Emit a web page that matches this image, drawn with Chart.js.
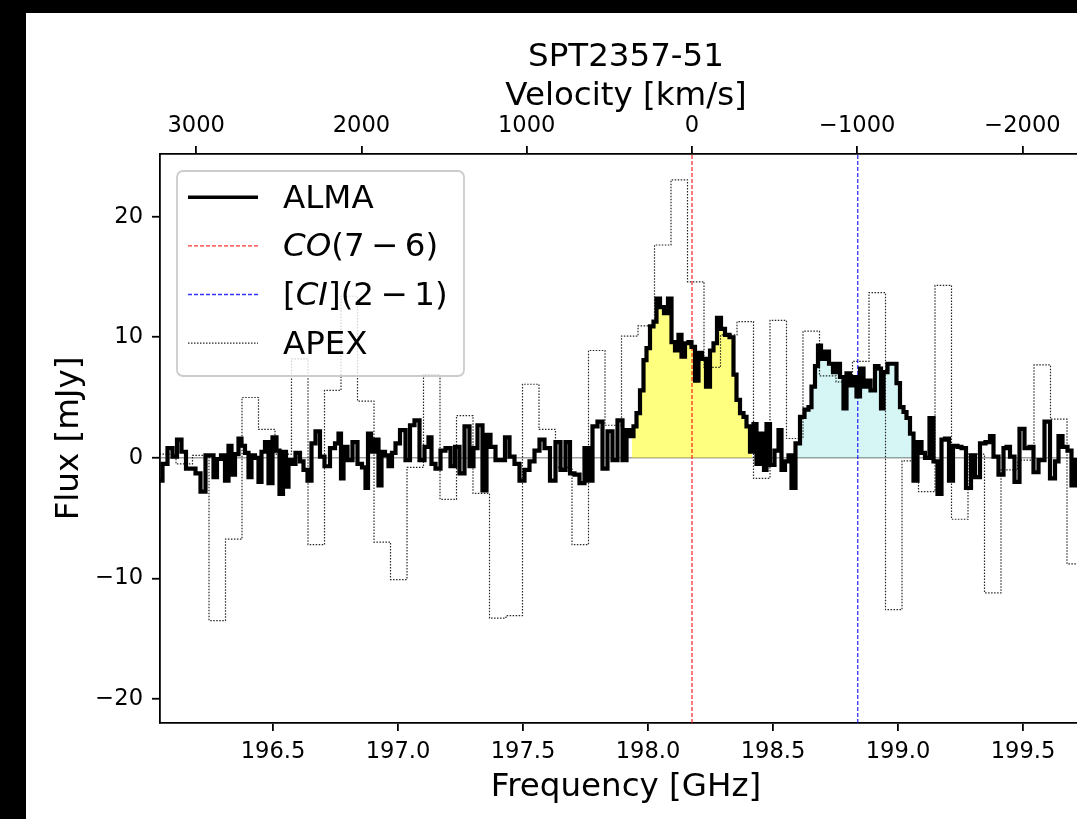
<!DOCTYPE html>
<html>
<head>
<meta charset="utf-8">
<script src="https://cdn.jsdelivr.net/npm/chart.js@4.4.1/dist/chart.umd.min.js"></script>
<style>
  html, body { margin: 0; padding: 0; background: #000; overflow: hidden; }
  #wrap { position: absolute; left: 26px; top: 13px; width: 1100px; height: 806px; background: #fff; }
</style>
</head>
<body>
<div id="wrap"><canvas id="spec"></canvas></div>
<script>
// line rest frequencies redshifted to the observed frame (GHz)
const C_KMS = 299792.458;
const F_CO = 198.176;
const F_CI = 198.839;
const X_MIN = 196.048, X_MAX = 199.776;
const Y_MIN = -22.0, Y_MAX = 25.2;

const FREQ_TICKS = [196.5, 197.0, 197.5, 198.0, 198.5, 199.0, 199.5];
const VEL_TICKS = [3000, 2000, 1000, 0, -1000, -2000];
const FLUX_TICKS = [-20, -10, 0, 10, 20];

// ALMA spectrum (GHz, mJy)
const ALMA_FREQ = [
  196.048,196.068,196.088,196.108,196.124,196.144,196.160,196.180,196.200,196.220,
  196.240,196.256,196.268,196.284,196.300,196.316,196.328,196.340,196.356,196.368,
  196.380,196.396,196.408,196.420,196.436,196.448,196.460,196.476,196.488,196.508,
  196.520,196.532,196.548,196.556,196.568,196.580,196.600,196.616,196.628,196.648,
  196.660,196.680,196.696,196.716,196.740,196.756,196.768,196.776,196.788,196.808,
  196.828,196.848,196.864,196.876,196.884,196.900,196.916,196.928,196.940,196.956,
  196.968,196.984,196.996,197.020,197.040,197.056,197.076,197.096,197.116,197.128,
  197.140,197.160,197.180,197.200,197.220,197.236,197.256,197.276,197.296,197.308,
  197.328,197.348,197.360,197.380,197.400,197.420,197.436,197.456,197.476,197.496,
  197.516,197.536,197.556,197.576,197.596,197.620,197.640,197.660,197.680,197.696,
  197.716,197.736,197.756,197.768,197.788,197.808,197.828,197.848,197.868,197.888,
  197.908,197.920,197.936,197.948,197.960,197.976,197.988,198.000,198.016,198.028,
  198.040,198.056,198.072,198.088,198.100,198.116,198.128,198.140,198.156,198.168,
  198.180,198.196,198.208,198.224,198.240,198.256,198.268,198.284,198.300,198.316,
  198.336,198.348,198.360,198.376,198.388,198.400,198.416,198.428,198.440,198.460,
  198.468,198.480,198.496,198.516,198.528,198.540,198.556,198.568,198.580,198.600,
  198.616,198.636,198.648,198.660,198.676,198.684,198.700,198.716,198.732,198.748,
  198.760,198.776,198.788,198.800,198.816,198.828,198.840,198.856,198.868,198.880,
  198.900,198.916,198.928,198.936,198.948,198.968,198.988,199.000,199.016,199.028,
  199.040,199.056,199.068,199.088,199.100,199.116,199.136,199.148,199.168,199.180,
  199.196,199.212,199.228,199.248,199.260,199.284,199.300,199.316,199.340,199.360,
  199.376,199.388,199.416,199.428,199.440,199.456,199.476,199.496,199.516,199.536,
  199.548,199.576,199.596,199.620,199.636,199.648,199.668,199.688,199.700,199.716,
  199.740,199.760,199.780
];
const ALMA_FLUX = [
  -1.9,-0.5,0.8,0.1,1.5,0.5,-0.9,-0.9,-1.3,-2.8,
  0.2,0.2,-1.6,-0.1,0.2,-1.9,1.0,-1.4,0.3,1.6,
  1.0,0.4,-1.6,0.2,0.0,-2.0,0.5,1.3,-2.1,1.7,
  0.6,-3.0,0.5,-2.4,-0.2,-0.5,0.4,-0.3,-1.0,-1.9,
  1.2,2.2,0.1,-0.7,0.8,1.2,2.0,-1.7,0.9,-0.2,
  1.3,-0.5,-0.8,-2.5,2.0,0.5,1.5,-2.3,0.5,0.2,
  -0.7,0.4,1.2,2.3,-0.2,2.7,3.1,-0.2,0.9,1.7,
  -0.5,-0.9,0.6,0.8,-0.7,0.9,-1.3,2.6,-0.7,0.8,
  2.7,-2.7,1.9,0.9,-0.2,-0.2,1.7,0.1,-0.5,-1.9,
  -1.0,-0.3,0.6,1.5,0.8,-1.9,1.3,-1.0,1.3,-1.3,
  -1.4,-2.1,0.8,-1.9,2.6,3.0,-0.9,2.2,-0.2,3.1,
  -0.2,2.3,1.8,2.6,3.7,5.6,8.1,9.1,10.9,11.3,
  13.2,12.5,12.0,13.2,9.6,8.9,10.2,8.4,9.5,9.6,
  9.2,6.4,8.7,8.2,5.9,8.9,9.5,11.6,10.7,10.2,
  10.0,6.9,4.8,3.7,3.4,2.6,0.5,2.8,-0.5,2.0,
  -1.0,2.8,-0.6,0.6,2.3,-1.0,-0.3,0.2,-2.5,1.2,
  3.4,4.0,4.2,5.9,7.6,9.3,8.2,8.8,7.8,7.1,
  7.8,6.7,4.1,7.0,6.0,6.7,5.1,7.4,5.9,6.4,
  5.6,7.6,7.4,4.1,7.1,7.8,7.8,6.2,4.2,3.8,
  3.3,2.0,-1.9,1.3,0.4,0.0,3.3,-0.3,-3.0,1.5,
  1.6,-1.9,1.0,0.9,0.8,-2.5,0.2,-1.6,1.2,1.3,
  1.8,0.1,-1.4,0.8,0.9,0.1,-2.0,2.4,0.8,0.9,
  -1.2,-0.2,3.0,-1.7,-0.3,1.8,0.9,0.6,-2.3,-0.2,
  0.5,-0.8,0.6
];

// APEX spectrum: coarse bins starting at APEX_START, APEX_WIDTH wide
const APEX_START = 196.046;
const APEX_WIDTH = 0.066;
const APEX_FLUX = [
  0.3,-0.5,0.2,-13.5,-6.75,5.0,2.35,0.3,8.2,-7.2,
  5.6,13.4,4.7,-7.0,-10.1,-0.8,6.9,-3.45,3.5,-2.95,
  -13.3,-13.1,6.1,2.35,-0.8,-7.2,8.9,2.7,10.1,10.95,
  17.65,23.05,14.6,7.5,10.2,11.3,-1.7,11.4,1.6,10.5,
  6.8,6.3,8.0,13.7,-12.6,-0.25,-2.8,14.3,-5.1,0.3,
  -11.2,-1.0,-0.2,7.7,3.2,-8.8,2.0
];

// shaded ranges under the two lines (GHz)
const CO_FILL = [197.93, 198.42];
const CI_FILL = [198.59, 199.06];

const almaPts = ALMA_FREQ.map((f, i) => ({x: f, y: ALMA_FLUX[i]}));
// bin left edges, plus the closing right edge of the last bin
const apexPts = APEX_FLUX.map((v, i) => ({x: APEX_START + i * APEX_WIDTH, y: v}));
apexPts.push({x: APEX_START + APEX_FLUX.length * APEX_WIDTH, y: APEX_FLUX[APEX_FLUX.length - 1]});
const inRange = r => almaPts.filter(p => p.x >= r[0] && p.x <= r[1]);

const vel = f => C_KMS * (F_CO - f) / F_CO;
const minus = v => (v < 0 ? '\u2212' + Math.abs(v) : String(v));
const fixTicks = list => scale => { scale.ticks = list.map(v => ({value: v})); };

const FONT = "'DejaVu Sans', sans-serif";
const BIG = 32.5, SMALL = 22.6;

const LEGEND_ROWS = [
  [{t: 'ALMA'}],
  [{t: 'CO', it: true}, {t: '(7\u2009\u2212\u20096)'}],
  [{t: '['}, {t: 'CI', it: true}, {t: '](2\u2009\u2212\u20091)'}],
  [{t: 'APEX'}]
];

const boxLegend = {
  id: 'boxLegend',
  afterDraw(chart) {
    const ctx = chart.ctx, a = chart.chartArea;
    const x0 = a.left + 17, y0 = a.top + 17, w = 287, h = 205, r = 6;
    ctx.save();
    ctx.beginPath();
    ctx.moveTo(x0 + r, y0);
    ctx.arcTo(x0 + w, y0, x0 + w, y0 + h, r);
    ctx.arcTo(x0 + w, y0 + h, x0, y0 + h, r);
    ctx.arcTo(x0, y0 + h, x0, y0, r);
    ctx.arcTo(x0, y0, x0 + w, y0, r);
    ctx.closePath();
    ctx.fillStyle = 'rgba(255,255,255,0.8)';
    ctx.fill();
    ctx.lineWidth = 1.8;
    ctx.strokeStyle = '#cccccc';
    ctx.stroke();
    LEGEND_ROWS.forEach((parts, i) => {
      const ds = chart.data.datasets[i];
      const yy = y0 + 26.3 + i * 48.6;
      ctx.beginPath();
      ctx.setLineDash(ds.borderDash || []);
      ctx.lineWidth = Math.min(ds.borderWidth, 3.4);
      ctx.strokeStyle = ds.borderColor;
      ctx.moveTo(x0 + 11, yy);
      ctx.lineTo(x0 + 81, yy);
      ctx.stroke();
      ctx.setLineDash([]);
      let tx = x0 + 106;
      ctx.fillStyle = '#000';
      ctx.textBaseline = 'middle';
      ctx.textAlign = 'left';
      parts.forEach(p => {
        ctx.font = (p.it ? 'italic ' : '') + BIG + 'px ' + FONT;
        ctx.fillText(p.t, tx, yy + 2);
        tx += ctx.measureText(p.t).width;
      });
    });
    ctx.restore();
  }
};

Chart.defaults.font.family = FONT;
Chart.defaults.color = '#000';

new Chart(document.getElementById('spec'), {
  type: 'line',
  data: {
    datasets: [
      {label: 'ALMA', data: almaPts, borderColor: '#000', borderWidth: 4.2,
       stepped: 'middle', pointRadius: 0, fill: false, order: 0},
      {label: 'CO(7-6)', data: [{x: F_CO, y: Y_MIN}, {x: F_CO, y: Y_MAX}],
       borderColor: 'rgba(255,0,0,0.8)', borderWidth: 1.3, borderDash: [4, 2],
       pointRadius: 0, fill: false, order: 1},
      {label: '[CI](2-1)', data: [{x: F_CI, y: Y_MIN}, {x: F_CI, y: Y_MAX}],
       borderColor: 'rgba(0,0,255,0.8)', borderWidth: 1.3, borderDash: [4, 2],
       pointRadius: 0, fill: false, order: 1},
      {label: 'APEX', data: apexPts, borderColor: 'rgba(0,0,0,0.85)', borderWidth: 1.2,
       borderDash: [1.5, 1.5], stepped: 'before', pointRadius: 0, fill: false, order: 2},
      {label: 'co fill', data: inRange(CO_FILL), borderColor: 'rgba(0,0,0,0)', borderWidth: 0,
       backgroundColor: 'rgba(255,255,0,0.5)', stepped: 'middle', pointRadius: 0,
       fill: 'origin', order: 5},
      {label: 'ci fill', data: inRange(CI_FILL), borderColor: 'rgba(0,0,0,0)', borderWidth: 0,
       backgroundColor: 'rgba(0,190,190,0.16)', stepped: 'middle', pointRadius: 0,
       fill: 'origin', order: 5}
    ]
  },
  options: {
    animation: false,
    responsive: true,
    maintainAspectRatio: false,
    devicePixelRatio: 1,
    layout: {padding: {left: 0, right: 34, top: 0, bottom: 0}},
    plugins: {
      legend: {display: false},
      tooltip: {enabled: false},
      title: {display: true, fullSize: false, text: 'SPT2357-51', color: '#000',
              font: {size: BIG, weight: 'normal'}, padding: {top: 24.7, bottom: 0}}
    },
    scales: {
      x: {
        type: 'linear', position: 'bottom', min: X_MIN, max: X_MAX,
        afterFit: s => { s.height = 96; },
        afterBuildTicks: fixTicks(FREQ_TICKS),
        ticks: {maxRotation: 0, autoSkip: false, padding: 8,
                font: {size: SMALL}, callback: v => v.toFixed(1)},
        grid: {drawOnChartArea: false, drawTicks: true, tickLength: 8, color: '#000', lineWidth: 1.8},
        border: {display: true, color: '#000', width: 1.8},
        title: {display: true, text: 'Frequency [GHz]', font: {size: BIG}, padding: {top: 0, bottom: 12.3}}
      },
      xv: {
        type: 'linear', axis: 'x', position: 'top', reverse: true,
        min: vel(X_MAX), max: vel(X_MIN),
        afterFit: s => { s.height = 141 - 63.7; },
        afterBuildTicks: fixTicks(VEL_TICKS),
        ticks: {maxRotation: 0, autoSkip: false, padding: 6,
                font: {size: SMALL}, callback: v => minus(Math.round(v))},
        grid: {drawOnChartArea: false, drawTicks: true, tickLength: 8, color: '#000', lineWidth: 1.8},
        border: {display: true, color: '#000', width: 1.8},
        title: {display: true, text: 'Velocity [km/s]', font: {size: BIG}, padding: {top: 0, bottom: 0}}
      },
      y: {
        type: 'linear', position: 'left', min: Y_MIN, max: Y_MAX,
        afterFit: s => { s.width = 134; },
        afterBuildTicks: fixTicks(FLUX_TICKS),
        ticks: {padding: 9, autoSkip: false, font: {size: SMALL}, callback: v => minus(v)},
        grid: {drawOnChartArea: true, drawTicks: true, tickLength: 8,
               color: c => (c.tick && c.tick.value === 0 ? '#a0a0a0' : 'rgba(0,0,0,0)'),
               lineWidth: 1.5, tickColor: '#000', tickWidth: 1.8},
        border: {display: true, color: '#000', width: 1.8},
        title: {display: true, text: 'Flux [mJy]', font: {size: BIG}, padding: {top: 23.7, bottom: 0}}
      }
    }
  },
  plugins: [boxLegend]
});
</script>
</body>
</html>
